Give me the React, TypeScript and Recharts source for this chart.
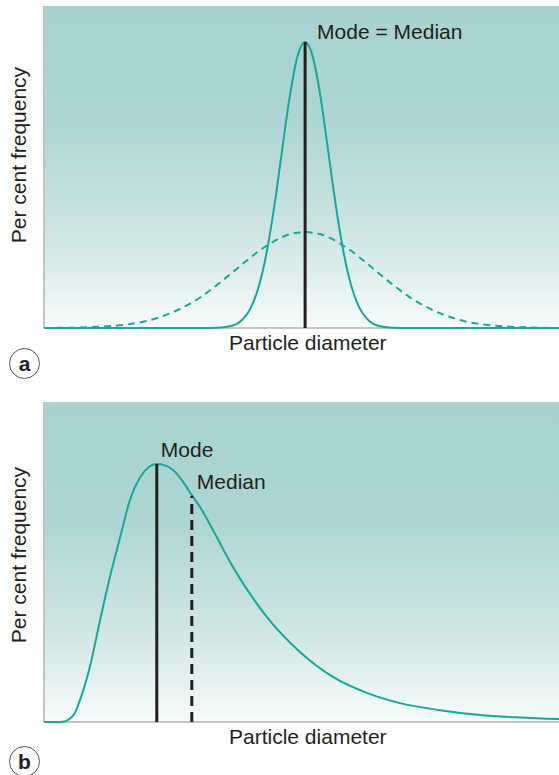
import { LineChart, Line, XAxis, YAxis, CartesianGrid, ReferenceLine } from 'recharts';

// panel a: narrow (solid) and wide (dashed) symmetric distributions
const diameterA = [
    0, 5.7, 10.7, 15.7, 20.7, 25.7, 30.7, 33.7, 36.7, 38.7, 40.2, 41.7, 43.2, 44.7, 46.2, 47.7, 49.2,
    50.7,
    52.2, 53.7, 55.2, 56.7, 58.2, 59.7, 61.2, 62.7, 64.7, 67.7, 70.7, 75.7, 80.7, 85.7, 90.7, 95.7, 100,
];
const narrowA = [
    0, 0, 0, 0, 0, 0, 0, 0.1, 0.8, 2.9, 6.4, 12.9, 23.2, 37.6, 54.8, 71.7, 84.2,
    88.8,
    84.2, 71.7, 54.8, 37.6, 23.2, 12.9, 6.4, 2.9, 0.8, 0.1, 0, 0, 0, 0, 0, 0, 0,
];
const wideA = [
    0, 0.1, 0.4, 1.0, 2.5, 5.4, 9.9, 13.5, 17.4, 20.1, 22.0, 23.9, 25.5, 27.0, 28.2, 29.1, 29.6,
    29.8,
    29.6, 29.1, 28.2, 27.0, 25.5, 23.9, 22.0, 20.1, 17.4, 13.5, 9.9, 5.4, 2.5, 1.0, 0.4, 0.1, 0,
];
const modeA = 50.7;
const peakA = 88.8;

// panel b: positively skewed distribution
const diameterB = [
    0, 2.3, 3.6, 4.7, 6.0, 7.0, 8.9, 10.9, 12.8, 14.8, 16.7, 18.6, 20.3, 21.9, 23.5, 25.0, 26.9, 28.7,
    30.3, 32.8, 36.7, 43.3, 49.7, 56.1, 62.7, 69.1, 76.9, 84.7, 92.4, 100,
];
const skewedB = [
    0, 0, 0.1, 0.7, 2.8, 6.9, 17.2, 31.9, 45.3, 57.8, 69.4, 76.3, 79.6, 80.6, 80.2, 78.8, 75.3, 70.9,
    67.2, 60.0, 48.4, 32.8, 21.9, 14.1, 9.1, 5.9, 3.7, 2.2, 1.4, 0.9,
];
const modeB = 21.9;
const modeTopB = 80.6;
const medianB = 28.7;
const medianTopB = 70.6;

const TEAL = '#19a79b';
const INK = '#231f20';
const AXIS = '#c4c4c4';
const FONT = "'Liberation Sans', Arial, Helvetica, sans-serif";

const dataA = diameterA.map((x, i) => ({ x, narrow: narrowA[i], wide: wideA[i] }));
const dataB = diameterB.map((x, i) => ({ x, value: skewedB[i] }));

const MarkerLabel = ({ viewBox, text, dx, dy }: { viewBox?: { x: number; y: number }; text: string; dx: number; dy: number }) => {
    if (!viewBox) return null;
    return (
        <text x={viewBox.x + dx} y={viewBox.y + dy} fill={INK} fontSize={21} fontFamily={FONT}>
            {text}
        </text>
    );
};

const Background = ({ id }: { id: string }) => (
    <defs>
        <linearGradient id={id} x1="0" y1="0" x2="0" y2="1">
            <stop offset="0%" stopColor="#a8d3d0" />
            <stop offset="35%" stopColor="#acd5d3" />
            <stop offset="70%" stopColor="#cde5e3" />
            <stop offset="100%" stopColor="#f7fbfb" />
        </linearGradient>
    </defs>
);

const AxisText = ({ top }: { top: number }) => (
    <div style={{ position: 'absolute', left: 229, top, fontSize: 21, whiteSpace: 'nowrap' }}>Particle diameter</div>
);

const YText = ({ centerY }: { centerY: number }) => (
    <div
        style={{
            position: 'absolute', left: 19 - 110, top: centerY - 12, width: 220, height: 24,
            fontSize: 21, textAlign: 'center', transform: 'rotate(-90deg)', whiteSpace: 'nowrap', lineHeight: '24px',
        }}
    >
        Per cent frequency
    </div>
);

const PanelTag = ({ letter, top }: { letter: string; top: number }) => (
    <div
        style={{
            position: 'absolute', left: 9, top, width: 31, height: 31, boxSizing: 'border-box',
            border: '1px solid #555', borderRadius: '50%', display: 'flex', alignItems: 'center',
            justifyContent: 'center', fontWeight: 'bold', fontSize: 21, lineHeight: 1,
        }}
    >
        {letter}
    </div>
);

export default function App() {
    const margin = { top: 6, right: 0, bottom: 12, left: 44 };
    return (
        <div style={{ position: 'absolute', left: 0, top: 0, width: 559, height: 775, background: '#fff', fontFamily: FONT, color: INK }}>
            <div style={{ position: 'absolute', left: 0, top: 0 }}>
                <LineChart width={559} height={340} data={dataA} margin={margin}>
                    <Background id="bgA" />
                    <CartesianGrid horizontal={false} vertical={false} fill="url(#bgA)" fillOpacity={1} />
                    <XAxis dataKey="x" type="number" domain={[0, 100]} hide />
                    <YAxis type="number" domain={[0, 100]} hide />
                    <ReferenceLine y={0} stroke={AXIS} strokeWidth={2} />
                    <ReferenceLine x={0} stroke={AXIS} strokeWidth={2} />
                    <Line type="monotone" dataKey="wide" stroke={TEAL} strokeWidth={2} strokeDasharray="7 5" dot={false} activeDot={false} isAnimationActive={false} />
                    <Line type="monotone" dataKey="narrow" stroke={TEAL} strokeWidth={2} dot={false} activeDot={false} isAnimationActive={false} />
                    <ReferenceLine
                        segment={[{ x: modeA, y: 0 }, { x: modeA, y: peakA }]}
                        stroke={INK}
                        strokeWidth={3}
                        label={<MarkerLabel text="Mode = Median" dx={12} dy={-3} />}
                    />
                </LineChart>
            </div>
            <YText centerY={155} />
            <AxisText top={331} />
            <PanelTag letter="a" top={348} />

            <div style={{ position: 'absolute', left: 0, top: 396 }}>
                <LineChart width={559} height={338} data={dataB} margin={margin}>
                    <Background id="bgB" />
                    <CartesianGrid horizontal={false} vertical={false} fill="url(#bgB)" fillOpacity={1} />
                    <XAxis dataKey="x" type="number" domain={[0, 100]} hide />
                    <YAxis type="number" domain={[0, 100]} hide />
                    <ReferenceLine y={0} stroke={AXIS} strokeWidth={2} />
                    <ReferenceLine x={0} stroke={AXIS} strokeWidth={2} />
                    <Line type="monotone" dataKey="value" stroke={TEAL} strokeWidth={2} dot={false} activeDot={false} isAnimationActive={false} />
                    <ReferenceLine
                        segment={[{ x: modeB, y: 0 }, { x: modeB, y: modeTopB }]}
                        stroke={INK}
                        strokeWidth={3}
                        label={<MarkerLabel text="Mode" dx={4} dy={-7} />}
                    />
                    <ReferenceLine
                        segment={[{ x: medianB, y: 0 }, { x: medianB, y: medianTopB }]}
                        stroke={INK}
                        strokeWidth={3}
                        strokeDasharray="10 6"
                        label={<MarkerLabel text="Median" dx={5} dy={-7} />}
                    />
                </LineChart>
            </div>
            <YText centerY={555} />
            <AxisText top={725} />
            <PanelTag letter="b" top={746} />
        </div>
    );
}
